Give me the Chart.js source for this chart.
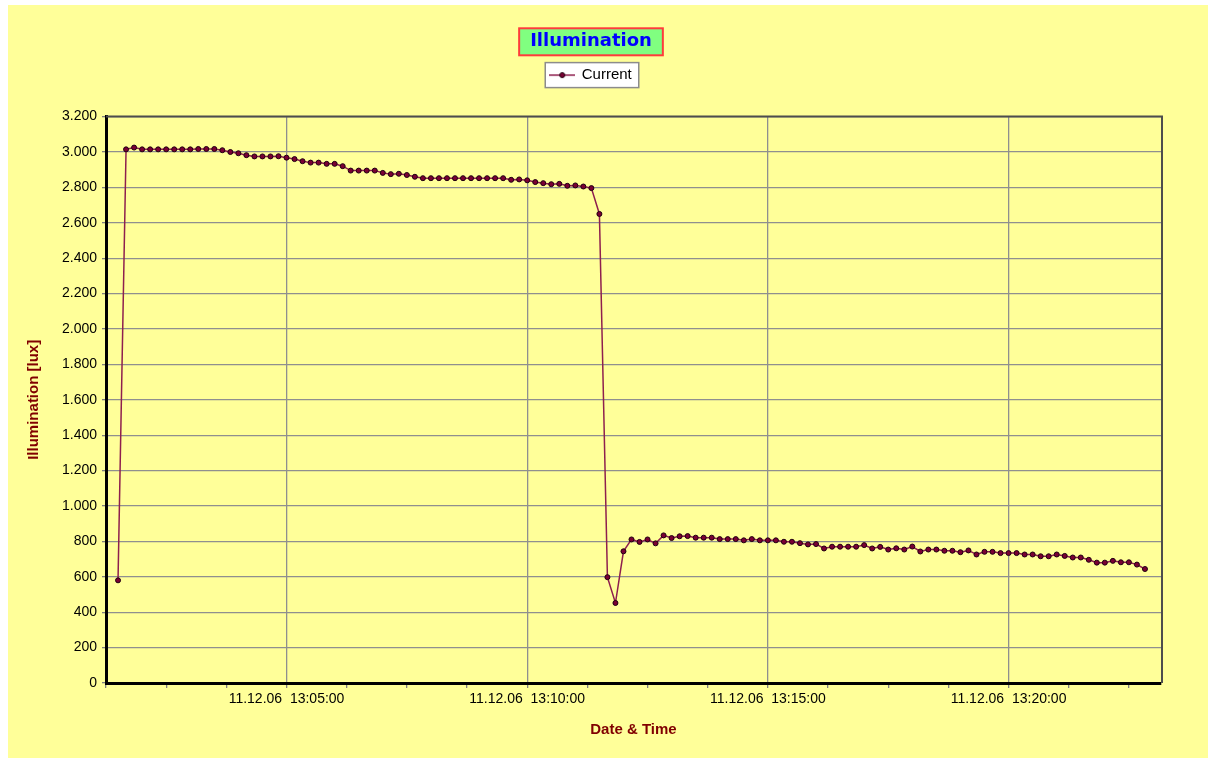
<!DOCTYPE html>
<html>
<head>
<meta charset="utf-8">
<title>Illumination</title>
<script src="https://cdn.jsdelivr.net/npm/chart.js@4/dist/chart.umd.min.js"></script>
<style>
  html, body { margin: 0; padding: 0; background: #fff; }
  #wrap { position: absolute; left: 8px; top: 5px; width: 1200px; height: 753px; }
</style>
</head>
<body>
<div id="wrap"><canvas id="chart" width="1200" height="753"></canvas></div>
<script>
// sample times (11.12.06), one reading every 10 s
const times = [
  '13:01:30', '13:01:40', '13:01:50',
  '13:02:00', '13:02:10', '13:02:20', '13:02:30', '13:02:40', '13:02:50',
  '13:03:00', '13:03:10', '13:03:20', '13:03:30', '13:03:40', '13:03:50',
  '13:04:00', '13:04:10', '13:04:20', '13:04:30', '13:04:40', '13:04:50',
  '13:05:00', '13:05:10', '13:05:20', '13:05:30', '13:05:40', '13:05:50',
  '13:06:00', '13:06:10', '13:06:20', '13:06:30', '13:06:40', '13:06:50',
  '13:07:00', '13:07:10', '13:07:20', '13:07:30', '13:07:40', '13:07:50',
  '13:08:00', '13:08:10', '13:08:20', '13:08:30', '13:08:40', '13:08:50',
  '13:09:00', '13:09:10', '13:09:20', '13:09:30', '13:09:40', '13:09:50',
  '13:10:00', '13:10:10', '13:10:20', '13:10:30', '13:10:40', '13:10:50',
  '13:11:00', '13:11:10', '13:11:20', '13:11:30', '13:11:40', '13:11:50',
  '13:12:00', '13:12:10', '13:12:20', '13:12:30', '13:12:40', '13:12:50',
  '13:13:00', '13:13:10', '13:13:20', '13:13:30', '13:13:40', '13:13:50',
  '13:14:00', '13:14:10', '13:14:20', '13:14:30', '13:14:40', '13:14:50',
  '13:15:00', '13:15:10', '13:15:20', '13:15:30', '13:15:40', '13:15:50',
  '13:16:00', '13:16:10', '13:16:20', '13:16:30', '13:16:40', '13:16:50',
  '13:17:00', '13:17:10', '13:17:20', '13:17:30', '13:17:40', '13:17:50',
  '13:18:00', '13:18:10', '13:18:20', '13:18:30', '13:18:40', '13:18:50',
  '13:19:00', '13:19:10', '13:19:20', '13:19:30', '13:19:40', '13:19:50',
  '13:20:00', '13:20:10', '13:20:20', '13:20:30', '13:20:40', '13:20:50',
  '13:21:00', '13:21:10', '13:21:20', '13:21:30', '13:21:40', '13:21:50',
  '13:22:00', '13:22:10', '13:22:20', '13:22:30', '13:22:40', '13:22:50'
];

// illumination in lux
const illumination = [
  580, 3015, 3025,
  3015, 3015, 3015, 3015, 3015, 3015,
  3015, 3017, 3017, 3017, 3010, 3000,
  2993, 2982, 2975, 2975, 2975, 2976,
  2968, 2960, 2948, 2940, 2940, 2933,
  2933, 2920, 2895, 2895, 2895, 2895,
  2882, 2875, 2877, 2870, 2860, 2852,
  2852, 2852, 2852, 2852, 2852, 2852,
  2852, 2852, 2852, 2852, 2843, 2845,
  2840, 2830, 2824, 2818, 2820, 2809,
  2811, 2805, 2796, 2650, 598, 452,
  744, 811, 797, 811, 789, 834,
  819, 829, 830, 821, 821, 821,
  813, 813, 813, 806, 813, 806,
  806, 806, 798, 798, 790, 783,
  785, 760, 770, 770, 770, 770,
  779, 760, 769, 754, 761, 754,
  771, 743, 754, 754, 747, 747,
  739, 749, 726, 741, 741, 734,
  734, 734, 726, 726, 716, 716,
  726, 718, 709, 709, 696, 680,
  680, 690, 682, 682, 669, 644
];

const xMin = 75;      // 13:01:15
const xMax = 1390;    // 13:23:10
const majorTicks = [300, 600, 900, 1200];
const majorTickLabels = ['11.12.06  13:05:00', '11.12.06  13:10:00', '11.12.06  13:15:00', '11.12.06  13:20:00'];

const titleText = 'Illumination';
const yTitle = 'Illumination [lux]';
const xTitle = 'Date & Time';

const LINE_COLOR = '#8E1F4E';
const MARKER_COLOR = '#7A0033';

function toSeconds(t) {
  const [h, m, s] = t.split(':').map(Number);
  return (h - 13) * 3600 + m * 60 + s;
}

function formatLux(v) {
  if (v < 1000) return String(v);
  const rest = String(v % 1000).padStart(3, '0');
  return Math.floor(v / 1000) + '.' + rest;
}

const points = times.map((t, i) => ({ x: toSeconds(t), y: illumination[i] }));

// little line+marker picture for the legend entry
const sample = document.createElement('canvas');
sample.width = 26;
sample.height = 8;
const sctx = sample.getContext('2d');
sctx.strokeStyle = LINE_COLOR;
sctx.lineWidth = 1.5;
sctx.beginPath(); sctx.moveTo(0, 4); sctx.lineTo(26, 4); sctx.stroke();
sctx.fillStyle = MARKER_COLOR;
sctx.strokeStyle = '#200010';
sctx.lineWidth = 1;
sctx.beginPath(); sctx.arc(13, 4, 2.5, 0, Math.PI * 2); sctx.fill(); sctx.stroke();

const TITLE_PAD_TOP = 26;
const TITLE_SIZE = 18;

const excelLook = {
  id: 'excelLook',
  beforeUpdate(chart) {
    // extra room between legend and plot area
    const legend = chart.legend;
    if (legend && !legend._padded) {
      const fit = legend.fit;
      legend.fit = function () { fit.call(this); this.height += 24; };
      legend._padded = true;
    }
  },
  beforeDraw(chart) {
    const ctx = chart.ctx;
    ctx.save();
    ctx.fillStyle = '#FFFF99';
    ctx.fillRect(0, 0, chart.width, chart.height);

    // title box
    const tb = chart.titleBlock;
    ctx.font = 'bold ' + TITLE_SIZE + 'px "DejaVu Sans"';
    const tw = ctx.measureText(titleText).width;
    const cx = (tb.left + tb.right) / 2;
    const cy = tb.top + TITLE_PAD_TOP + TITLE_SIZE * 1.2 / 2;
    ctx.fillStyle = '#80FF80';
    ctx.fillRect(cx - tw / 2 - 11, cy - 13.5, tw + 22, 27);
    ctx.strokeStyle = '#FF3B3B';
    ctx.lineWidth = 2;
    ctx.strokeRect(cx - tw / 2 - 11, cy - 13.5, tw + 22, 27);

    // legend box
    const hb = chart.legend.legendHitBoxes[0];
    if (hb) {
      ctx.fillStyle = '#FFFFFF';
      ctx.fillRect(hb.left - 5, hb.top - 5, hb.width + 12, hb.height + 10);
      ctx.strokeStyle = '#8C8C8C';
      ctx.lineWidth = 1.5;
      ctx.strokeRect(hb.left - 5, hb.top - 5, hb.width + 12, hb.height + 10);
    }
    ctx.restore();
  },
  beforeDatasetsDraw(chart) {
    const { ctx, chartArea: a } = chart;
    ctx.save();
    ctx.strokeStyle = '#4D4D4D';
    ctx.lineWidth = 2;
    ctx.beginPath();
    ctx.moveTo(a.left, a.top);
    ctx.lineTo(a.right + 1, a.top);
    ctx.lineTo(a.right + 1, a.bottom);
    ctx.stroke();
    ctx.restore();
  }
};

Chart.defaults.font.family = '"Liberation Sans", Arial, sans-serif';
Chart.defaults.font.size = 14;
Chart.defaults.color = '#000';

const axisTitleFont = {
  family: '"Liberation Sans Narrow", "Liberation Sans", Arial, sans-serif',
  size: 15,
  weight: 'bold'
};

new Chart(document.getElementById('chart'), {
  type: 'line',
  data: {
    datasets: [{
      label: 'Current',
      data: points,
      borderColor: LINE_COLOR,
      borderWidth: 1.5,
      tension: 0,
      pointRadius: 2.5,
      pointBackgroundColor: MARKER_COLOR,
      pointBorderColor: '#200010',
      pointBorderWidth: 1
    }]
  },
  options: {
    responsive: false,
    animation: false,
    layout: { padding: { left: 13, right: 47, top: 0, bottom: 0 } },
    plugins: {
      title: {
        display: true,
        text: titleText,
        color: '#0000FF',
        font: { family: '"DejaVu Sans"', size: TITLE_SIZE, weight: 'bold' },
        padding: { top: TITLE_PAD_TOP, bottom: 5 }
      },
      legend: {
        display: true,
        labels: {
          usePointStyle: true,
          pointStyle: sample,
          pointStyleWidth: 24,
          padding: 10,
          color: '#000',
          font: { size: 15 }
        }
      },
      tooltip: { enabled: false }
    },
    scales: {
      x: {
        type: 'linear',
        min: xMin,
        max: xMax,
        afterBuildTicks(scale) {
          const ticks = [];
          for (let v = xMin; v <= xMax; v += 75) ticks.push({ value: v });
          scale.ticks = ticks;
        },
        afterFit(scale) { scale.height = 75; },
        ticks: {
          autoSkip: false,
          maxRotation: 0,
          padding: 3,
          color: '#000',
          callback(value) {
            const i = majorTicks.indexOf(value);
            return i >= 0 ? majorTickLabels[i] : '';
          }
        },
        grid: {
          color: ctx => (ctx.tick && majorTicks.includes(ctx.tick.value)) ? '#8F8F8F' : 'rgba(0,0,0,0)',
          tickColor: '#808080',
          tickLength: 5,
          lineWidth: 1.3
        },
        border: { color: '#000', width: 3 },
        title: {
          display: true,
          text: xTitle,
          color: '#800000',
          font: axisTitleFont,
          padding: { top: 4, bottom: 19 }
        }
      },
      y: {
        min: 0,
        max: 3200,
        afterFit(scale) { scale.width = 85; },
        ticks: {
          stepSize: 200,
          padding: 5,
          color: '#000',
          callback: v => formatLux(v)
        },
        grid: {
          color: '#8F8F8F',
          tickColor: '#808080',
          tickLength: 4,
          lineWidth: 1.3
        },
        border: { color: '#000', width: 3 },
        title: {
          display: true,
          text: yTitle,
          color: '#800000',
          font: axisTitleFont,
          padding: { top: 4, bottom: 0 }
        }
      }
    }
  },
  plugins: [excelLook]
});
</script>
</body>
</html>
